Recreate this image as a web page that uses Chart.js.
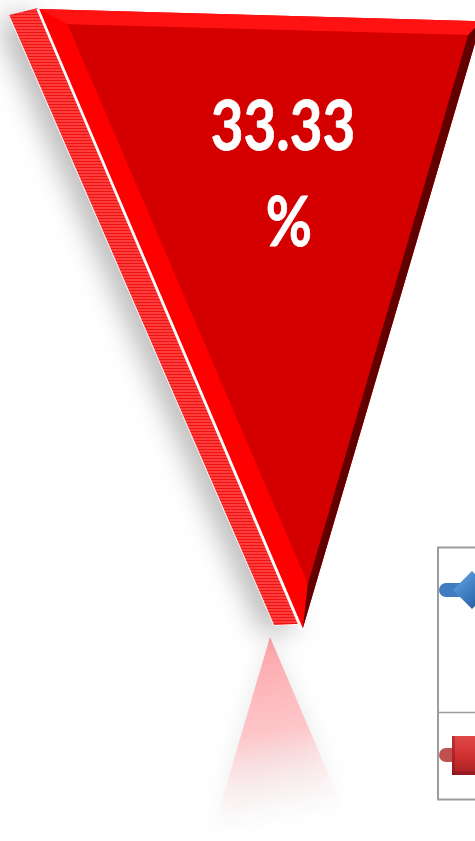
<!DOCTYPE html>
<html>
<head>
<meta charset="utf-8">
<title>Pie</title>
<script src="https://cdn.jsdelivr.net/npm/chart.js@4"></script>
<style>
  html, body { margin: 0; padding: 0; background: #fff; overflow: hidden; }
  #wrap { position: relative; width: 475px; height: 841px; overflow: hidden; }
  canvas { display: block; }
</style>
</head>
<body>
<!-- canvas is wider than the window: the picture is a crop of a bigger chart -->
<div id="wrap"><canvas id="grafico" width="1015" height="841"></canvas></div>
<script>
// dados
const categories = ['Red', 'Blue'];
const sliceValues = [33.33, 66.67];
const sliceColors = ['#ff0000', 'rgba(0,0,0,0)']; // the blue slice falls outside the crop
const legendColors = ['#c0504d', '#4f81bd'];

// facets of the 3D slice: [fraction of the arc angle, fraction of the radius]
const rightCorner = [1, 0.94];
const innerFace = [[0.045, 0.963], [0.979, 0.915], [0.749, 0.066]];
const darkSide = [[0.979, 0.915], [1, 0.94], [1, 0], [0.749, 0.066]];
const topBevel = [[0, 1], [1, 0.94], [0.979, 0.915], [0.045, 0.963]];
const slab = [[-0.065, 1.01], [-0.003, 1.002], [0.6, 0.006], [-1.57, 0.043]];

const polar = (arc, [t, r]) => {
  const a = arc.startAngle + t * (arc.endAngle - arc.startAngle);
  return [arc.x + Math.cos(a) * r * arc.outerRadius, arc.y + Math.sin(a) * r * arc.outerRadius];
};

const poly = (ctx, pts) => {
  ctx.beginPath();
  pts.forEach((p, i) => (i ? ctx.lineTo(p[0], p[1]) : ctx.moveTo(p[0], p[1])));
  ctx.closePath();
};

const stripes = (ctx) => {
  const c = document.createElement('canvas');
  c.width = 1;
  c.height = 3;
  const g = c.getContext('2d');
  g.fillStyle = '#ff3c3c';
  g.fillRect(0, 0, 1, 3);
  g.fillStyle = '#ee1414';
  g.fillRect(0, 2, 1, 1);
  return ctx.createPattern(c, 'repeat');
};

const label = (ctx, text, x, y) => {
  ctx.save();
  ctx.fillStyle = '#fff';
  ctx.strokeStyle = '#fff';
  ctx.lineWidth = 0.8;
  ctx.lineJoin = 'round';
  ctx.font = 'bold 68px Lato';
  ctx.textAlign = 'center';
  ctx.textBaseline = 'alphabetic';
  ctx.translate(x, y);
  ctx.scale(0.83, 1);
  ctx.fillText(text, 0, 0);
  ctx.strokeText(text, 0, 0);
  ctx.restore();
};

const wedge3d = {
  id: 'wedge3d',
  beforeDatasetsDraw(chart) {
    const ctx = chart.ctx;
    const arc = chart.getDatasetMeta(0).data[0];
    const left = polar(arc, [0, 1]);
    const right = polar(arc, rightCorner);

    // reflection under the tip: same slice turned half a circle
    const rx = 270, ry = 637;
    const refl = [[arc.x, arc.y], left, right].map((p) => [rx - (p[0] - arc.x), ry - (p[1] - arc.y)]);
    const grad = ctx.createLinearGradient(rx, ry, 306, 823);
    grad.addColorStop(0, 'rgba(255,160,165,0.95)');
    grad.addColorStop(0.5, 'rgba(255,195,198,0.9)');
    grad.addColorStop(1, 'rgba(255,255,255,0)');
    ctx.save();
    ctx.shadowColor = 'rgba(0,0,0,0.1)';
    ctx.shadowBlur = 22;
    poly(ctx, refl);
    ctx.fillStyle = grad;
    ctx.fill();
    ctx.restore();

    // slab on the left with its soft shadow
    const slabPts = slab.map((p) => polar(arc, p));
    ctx.save();
    ctx.shadowColor = 'rgba(0,0,0,0.34)';
    ctx.shadowBlur = 30;
    ctx.shadowOffsetX = -9;
    ctx.shadowOffsetY = 6;
    poly(ctx, slabPts);
    ctx.fillStyle = '#ff2020';
    ctx.fill();
    ctx.restore();
    poly(ctx, slabPts);
    ctx.fillStyle = stripes(ctx);
    ctx.fill();
    ctx.strokeStyle = '#fff';
    ctx.lineWidth = 1;
    ctx.beginPath();
    ctx.moveTo(slabPts[0][0], slabPts[0][1]);
    ctx.lineTo(slabPts[3][0], slabPts[3][1]);
    ctx.lineTo(slabPts[2][0], slabPts[2][1]);
    ctx.stroke();

    // white line between slab and face
    ctx.strokeStyle = '#fff';
    ctx.lineWidth = 3.4;
    ctx.beginPath();
    ctx.moveTo(slabPts[1][0] + 0.5, slabPts[1][1]);
    ctx.lineTo(arc.x - 1, arc.y + 1);
    ctx.stroke();

    // the top of the slice is a straight edge, not the arc
    ctx.save();
    ctx.beginPath();
    ctx.moveTo(left[0], left[1]);
    ctx.lineTo(right[0], right[1]);
    ctx.lineTo(right[0] + 50, 900);
    ctx.lineTo(left[0] - 50, 900);
    ctx.closePath();
    ctx.clip();
  },
  afterDatasetsDraw(chart) {
    const ctx = chart.ctx;
    ctx.restore();
    const arc = chart.getDatasetMeta(0).data[0];

    poly(ctx, topBevel.map((p) => polar(arc, p)));
    ctx.fillStyle = '#ff1212';
    ctx.fill();

    poly(ctx, innerFace.map((p) => polar(arc, p)));
    ctx.fillStyle = '#d40000';
    ctx.fill();

    poly(ctx, darkSide.map((p) => polar(arc, p)));
    ctx.fillStyle = '#620000';
    ctx.fill();

    // data label, wrapped in two lines
    label(ctx, sliceValues[0].toFixed(2), 283, 150);
    label(ctx, '%', 289, 246);

    drawLegend(ctx);
  }
};

function drawLegend(ctx) {
  // frame, cut by the right side of the picture
  ctx.strokeStyle = '#9c9c9c';
  ctx.lineWidth = 2;
  ctx.strokeRect(438, 547.5, 80, 252);
  ctx.lineWidth = 1.5;
  ctx.beginPath();
  ctx.moveTo(438, 712.5);
  ctx.lineTo(518, 712.5);
  ctx.stroke();

  // blue key
  ctx.fillStyle = '#3f7cc0';
  ctx.beginPath();
  ctx.roundRect(439, 583, 30, 14, 7);
  ctx.fill();
  const b = ctx.createLinearGradient(453, 572, 490, 608);
  b.addColorStop(0, '#6ba6e0');
  b.addColorStop(0.55, '#3a78bd');
  b.addColorStop(1, '#1f4f8a');
  ctx.fillStyle = b;
  poly(ctx, [[453, 590], [472, 571], [491, 590], [472, 609]]);
  ctx.fill();

  // red key
  ctx.fillStyle = legendColors[0];
  ctx.beginPath();
  ctx.roundRect(439, 748, 30, 14, 7);
  ctx.fill();
  const r = ctx.createLinearGradient(0, 736, 0, 775);
  r.addColorStop(0, '#e04a48');
  r.addColorStop(0.5, '#d03030');
  r.addColorStop(1, '#a82226');
  ctx.fillStyle = r;
  ctx.fillRect(452, 736, 40, 39);
  ctx.fillStyle = 'rgba(120,10,20,0.35)';
  ctx.fillRect(452, 736, 3, 39);
  ctx.fillRect(452, 771, 40, 4);
}

new Chart(document.getElementById('grafico').getContext('2d'), {
  type: 'pie',
  data: {
    labels: categories,
    datasets: [{
      data: sliceValues,
      backgroundColor: sliceColors,
      borderWidth: 0
    }]
  },
  options: {
    responsive: false,
    animation: false,
    events: [],
    rotation: -23.06,
    circumference: 118.4,
    radius: 673,
    layout: { padding: { bottom: 195 } },
    plugins: { legend: { display: false }, tooltip: { enabled: false } }
  },
  plugins: [wedge3d]
});
</script>
</body>
</html>
